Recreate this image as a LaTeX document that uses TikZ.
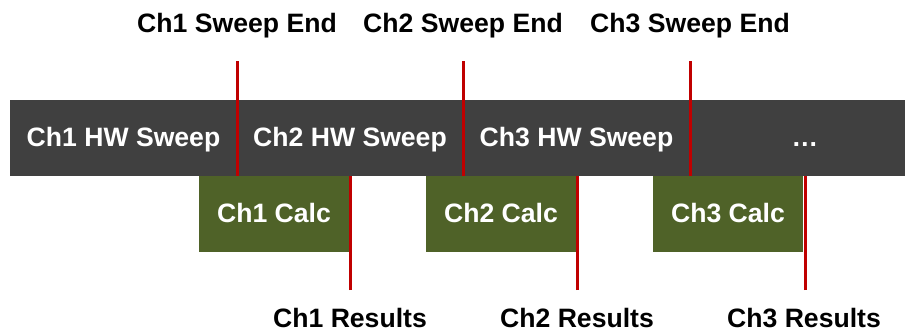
\documentclass[tikz,border=0pt]{standalone}
\usepackage{fontspec}
\setmainfont{Liberation Sans}
\definecolor{barDark}{HTML}{404040}
\definecolor{calcGreen}{HTML}{4F6228}
\definecolor{markRed}{HTML}{C00000}
\tikzset{
  lbl/.style={font=\fontsize{26.6}{30}\selectfont\bfseries, inner sep=0pt, anchor=base},
  wlbl/.style={lbl, text=white},
  calcbox/.style={fill=calcGreen, draw=none, minimum width=150pt, minimum height=76pt, inner sep=0pt, anchor=north west},
  marker/.style={draw=markRed, line width=3pt},
}
\begin{document}
\begin{tikzpicture}[x=1pt,y=-1pt]
\useasboundingbox[fill=white] (0,0) rectangle (905,332);
% dark bar
\node[fill=barDark, minimum width=895pt, minimum height=76pt, inner sep=0pt, anchor=north west] (bar) at (10,100) {};
% calc boxes
\node[calcbox] (c1) at (199,176) {};
\node[calcbox] (c2) at (426,176) {};
\node[calcbox] (c3) at (653,176) {};
\node[wlbl] (c1t) at (274,222) {Ch1 Calc};
\node[wlbl] (c2t) at (501,222) {Ch2 Calc};
\node[wlbl] (c3t) at (728,222) {Ch3 Calc};
% sweep labels
\node[wlbl] (s1) at (123.5,146) {Ch1 HW Sweep};
\node[wlbl] (s2) at (350,146) {Ch2 HW Sweep};
\node[wlbl] (s3) at (576.5,146) {Ch3 HW Sweep};
\node[wlbl] (s4) at (805,146) {\dots};
% top labels
\node[lbl] (e1) at (237,32) {Ch1 Sweep End};
\node[lbl] (e2) at (463,32) {Ch2 Sweep End};
\node[lbl] (e3) at (690,32) {Ch3 Sweep End};
% bottom labels
\node[lbl] (r1) at (350,327) {Ch1 Results};
\node[lbl] (r2) at (577,327) {Ch2 Results};
\node[lbl] (r3) at (804,327) {Ch3 Results};
% marker coordinates
\coordinate (t1) at (237,61);
\coordinate (t2) at (463,61);
\coordinate (t3) at (690,61);
\coordinate (b1) at (350,290);
\coordinate (b2) at (577,290);
\coordinate (b3) at (805,290);
\draw[marker] (t1) -- (t1 |- bar.south);
\draw[marker] (t2) -- (t2 |- bar.south);
\draw[marker] (t3) -- (t3 |- bar.south);
\draw[marker] (b1) -- (b1 |- bar.south);
\draw[marker] (b2) -- (b2 |- bar.south);
\draw[marker] (b3) -- (b3 |- bar.south);
\end{tikzpicture}
\end{document}
